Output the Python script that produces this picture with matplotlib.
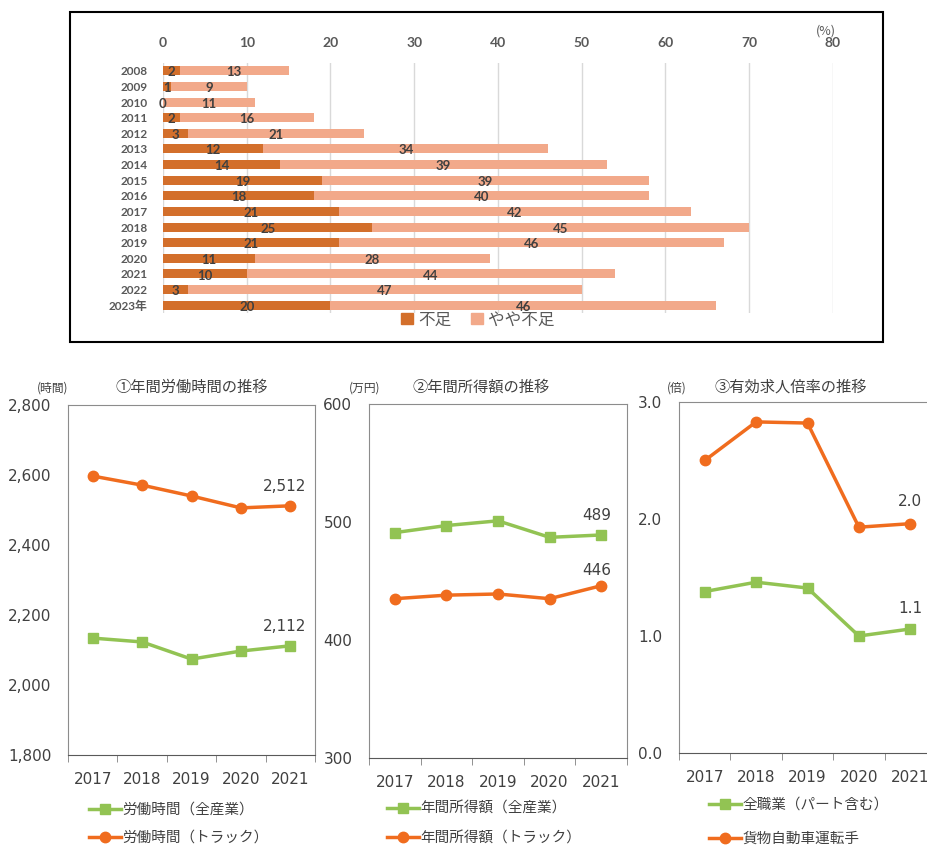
import matplotlib
matplotlib.use('Agg')
import matplotlib.pyplot as plt
from matplotlib.patches import Rectangle, Patch
from matplotlib.lines import Line2D

plt.rcParams['font.family'] = ['DejaVu Sans', 'Noto Sans CJK JP']

# --- data ---
bar_years = ['2008', '2009', '2010', '2011', '2012', '2013', '2014', '2015',
             '2016', '2017', '2018', '2019', '2020', '2021', '2022', '2023年']
shortage = [2, 1, 0, 2, 3, 12, 14, 19, 18, 21, 25, 21, 11, 10, 3, 20]
slight_shortage = [13, 9, 11, 16, 21, 34, 39, 39, 40, 42, 45, 46, 28, 44, 47, 46]

line_years = ['2017', '2018', '2019', '2020', '2021']
hours_all = [2134, 2123, 2074, 2097, 2112]
hours_truck = [2597, 2571, 2540, 2506, 2512]
income_all = [491, 497, 501, 487, 489]
income_truck = [435, 438, 439, 435, 446]
ratio_all = [1.38, 1.46, 1.41, 1.00, 1.06]
ratio_truck = [2.50, 2.83, 2.82, 1.93, 1.96]

W, H = 928, 846
DARK = '#D36F2B'
LIGHT = '#F2A98A'
ORANGE = '#F06C1E'
GREEN = '#92C353'
TXT = '#404040'
JP = ['Noto Sans CJK JP', 'DejaVu Sans']
TOPFONT = ['Lato', 'Noto Sans CJK JP']


def px(l, t, r, b):
    return [l / W, 1 - b / H, (r - l) / W, (b - t) / H]


def fx(x, y):
    return x / W, 1 - y / H


fig = plt.figure(figsize=(W / 100, H / 100), dpi=100)

# frame around the bar chart
fig.patches.append(Rectangle(fx(70, 342), 813 / W, 330 / H, transform=fig.transFigure,
                             fill=False, edgecolor='black', linewidth=1.5))

# --- stacked bar chart ---
ax = fig.add_axes(px(163, 63, 833, 313))
pos = list(range(len(bar_years)))
ax.barh(pos, shortage, height=0.58, color=DARK, label='不足')
ax.barh(pos, slight_shortage, left=shortage, height=0.58, color=LIGHT, label='やや不足')
for i in pos:
    ax.text(shortage[i] / 2, i + 0.1, str(shortage[i]), ha='center', va='center',
            fontsize=9.5, fontweight='bold', color=TXT, family=TOPFONT)
    ax.text(shortage[i] + slight_shortage[i] / 2, i + 0.1, str(slight_shortage[i]),
            ha='center', va='center', fontsize=9.5, fontweight='bold', color=TXT, family=TOPFONT)
ax.set_xlim(0, 80)
ax.set_ylim(15.5, -0.5)
ax.set_xticks(range(0, 81, 10))
ax.xaxis.tick_top()
ax.tick_params(axis='x', length=0, pad=10, labelsize=10, labelcolor='#595959')
for lb in ax.get_xticklabels():
    lb.set_fontweight('bold')
    lb.set_family(TOPFONT)
ax.set_yticks(pos)
ax.set_yticklabels(bar_years, fontsize=8.5, fontweight='bold', color='#595959', family=TOPFONT)
ax.tick_params(axis='y', length=0, pad=11)
ax.grid(axis='x', color='#D9D9D9', linewidth=1)
ax.set_axisbelow(True)
for s in ax.spines.values():
    s.set_visible(False)
fig.text(*fx(826, 31), '(%)', ha='center', va='center', fontsize=9, color='#595959', family=JP)
fig.legend(handles=[Patch(color=DARK, label='不足'), Patch(color=LIGHT, label='やや不足')],
           loc='center', bbox_to_anchor=fx(478, 320), ncol=2, frameon=False,
           prop={'family': JP, 'size': 12}, labelcolor='#595959',
           handlelength=0.7, handleheight=0.7, handletextpad=0.3, columnspacing=1.2)


# --- line charts ---
def line_panel(rect, ylim, yticks, ytick_labels, s_all, s_truck, fmt,
               title, title_x, unit, unit_x, names, leg_x, leg_y, leg_sp, ann_all, ann_truck):
    a = fig.add_axes(px(*rect))
    x = list(range(len(line_years)))
    a.plot(x, s_all, color=GREEN, lw=2.5, marker='s', ms=7, label=names[0])
    a.plot(x, s_truck, color=ORANGE, lw=2.5, marker='o', ms=7.5, label=names[1])
    a.set_xlim(-0.5, 4.5)
    a.set_ylim(*ylim)
    a.set_yticks(yticks)
    a.set_yticklabels(ytick_labels)
    a.set_xticks(x)
    a.set_xticklabels(line_years)
    a.set_xticks([i - 0.5 for i in range(6)], minor=True)
    a.tick_params(axis='x', which='major', length=0, pad=12, labelsize=11, labelcolor=TXT)
    a.tick_params(axis='x', which='minor', length=5, color='#808080')
    a.tick_params(axis='y', length=0, pad=12, labelsize=11, labelcolor=TXT)
    for s in a.spines.values():
        s.set_color('#8C8C8C')
    a.spines['bottom'].set_color('#595959')
    a.annotate(fmt(s_all[-1]), (4, s_all[-1]), xytext=ann_all, textcoords='offset points',
               ha='center', va='center', fontsize=11, color=TXT)
    a.annotate(fmt(s_truck[-1]), (4, s_truck[-1]), xytext=ann_truck, textcoords='offset points',
               ha='center', va='center', fontsize=11, color=TXT)
    fig.text(*fx(title_x, 387), title, ha='center', va='center', fontsize=11, color=TXT, family=JP)
    fig.text(*fx(unit_x, 388), unit, ha='center', va='center', fontsize=8.5, color=TXT, family=JP)
    fig.legend(handles=[Line2D([], [], color=GREEN, lw=2.5, marker='s', ms=7),
                        Line2D([], [], color=ORANGE, lw=2.5, marker='o', ms=7.5)],
               labels=names, loc='upper left', bbox_to_anchor=fx(leg_x, leg_y),
               frameon=False, prop={'family': JP, 'size': 10.5}, labelcolor=TXT,
               handlelength=2.2, handletextpad=0.1, labelspacing=leg_sp, borderaxespad=0,
               borderpad=0)
    return a


line_panel((68, 405, 315, 755), (1800, 2800), range(1800, 2801, 200),
           ['1,800', '2,000', '2,200', '2,400', '2,600', '2,800'],
           hours_all, hours_truck, lambda v: f'{v:,}',
           '①年間労働時間の推移', 192, '(時間)', 53,
           ['労働時間（全産業）', '労働時間（トラック）'], 89, 803, 0.95, (-4, 14), (-4, 14))

line_panel((369, 404, 627, 758), (300, 600), range(300, 601, 100),
           ['300', '400', '500', '600'],
           income_all, income_truck, lambda v: f'{v}',
           '②年間所得額の推移', 481, '(万円)', 365,
           ['年間所得額（全産業）', '年間所得額（トラック）'], 387, 802, 1.05, (-3, 14), (-3, 11))

line_panel((679, 402, 936, 753), (0, 3), [0, 1, 2, 3],
           ['0.0', '1.0', '2.0', '3.0'],
           ratio_all, ratio_truck, lambda v: f'{v:.1f}',
           '③有効求人倍率の推移', 791, '(倍)', 677,
           ['全職業（パート含む）', '貨物自動車運転手'], 709, 798, 1.35, (0, 15), (0, 16))

fig.savefig('out.png', dpi=100)
